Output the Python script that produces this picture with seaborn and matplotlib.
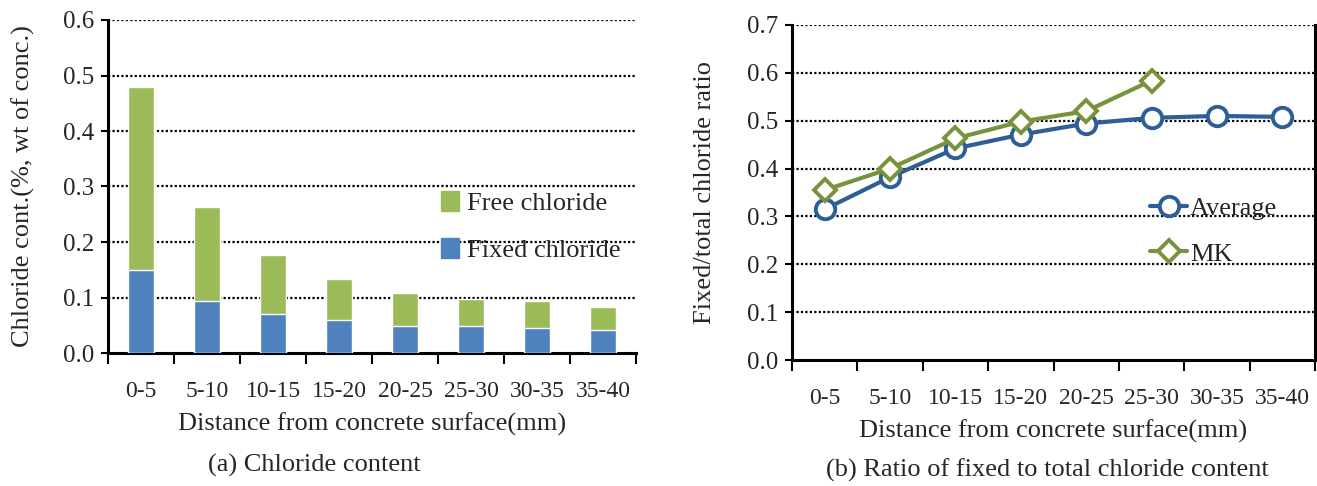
import pandas as pd
import numpy as np
import matplotlib.pyplot as plt
import matplotlib.patches as mpatches
import seaborn as sns

# dati
distanze = ['0-5', '5-10', '10-15', '15-20', '20-25', '25-30', '30-35', '35-40']
cloruro_fisso = [0.150, 0.093, 0.071, 0.060, 0.049, 0.049, 0.045, 0.041]
cloruro_totale = [0.480, 0.263, 0.176, 0.133, 0.108, 0.097, 0.093, 0.082]
rapporto_medio = [0.315, 0.382, 0.442, 0.471, 0.494, 0.506, 0.510, 0.508]
rapporto_mk = [0.355, 0.400, 0.463, 0.498, 0.520, 0.584]

verde = '#9BBB59'
blu = '#4F81BD'
blu_linea = '#2E5E98'
verde_linea = '#77933C'

sns.set_style('white')
plt.rcParams['font.family'] = ['Liberation Serif', 'DejaVu Serif']
plt.rcParams['font.size'] = 18

df_bar = pd.DataFrame({'dist': distanze, 'fisso': cloruro_fisso, 'totale': cloruro_totale})
df_media = pd.DataFrame({'dist': distanze, 'ratio': rapporto_medio})
df_mk = pd.DataFrame({'dist': distanze[:len(rapporto_mk)], 'ratio': rapporto_mk})

W, H = 1317, 486
fig = plt.figure(figsize=(W / 100, H / 100), dpi=100)
ax1 = fig.add_axes([108 / W, (H - 353) / H, (636 - 108) / W, (353 - 20) / H])
ax2 = fig.add_axes([792 / W, (H - 360) / H, (1315 - 792) / W, (360 - 25) / H])


def stile_assi(ax, ymax, destra):
    ax.set_xlim(-0.5, len(distanze) - 0.5)
    ax.set_ylim(0, ymax)
    ax.set_yticks(np.arange(0, ymax + 0.001, 0.1))
    ax.set_yticklabels([f'{v:.1f}' for v in np.arange(0, ymax + 0.001, 0.1)])
    ax.set_xticks(range(len(distanze)))
    ax.set_xticklabels(distanze)
    ax.set_xticks(np.arange(-0.5, len(distanze), 1.0), minor=True)
    ax.tick_params(axis='x', which='major', bottom=True, length=0, pad=20, labelsize=17)
    ax.tick_params(axis='x', which='minor', bottom=True, length=8, width=1.5, direction='out', color='black')
    ax.tick_params(axis='y', left=True, length=5, width=1.5, direction='out', color='black', labelsize=18, pad=5)
    for y in np.arange(0.1, ymax + 0.001, 0.1):
        ax.axhline(y, color='black', linestyle=(0, (1, 1)), linewidth=1.6, zorder=0)
    for s in ['left', 'bottom']:
        ax.spines[s].set_color('black')
        ax.spines[s].set_linewidth(2.2)
    ax.spines['top'].set_visible(False)
    ax.spines['right'].set_visible(destra)
    if destra:
        ax.spines['right'].set_color('black')
        ax.spines['right'].set_linewidth(2.2)
    ax.set_xlabel('Distance from concrete surface(mm)', fontsize=19, labelpad=8)


# (a) barre impilate
sns.barplot(data=df_bar, x='dist', y='totale', color=verde, width=0.4, saturation=1, ax=ax1, zorder=2)
sns.barplot(data=df_bar, x='dist', y='fisso', color=blu, width=0.4, saturation=1, ax=ax1, zorder=3)
stile_assi(ax1, 0.6, False)
ax1.set_ylabel('Chloride cont.(%, wt of conc.)', fontsize=19, labelpad=20)
handles = [mpatches.Patch(color=verde, label='Free chloride'),
           mpatches.Patch(color=blu, label='Fixed chloride')]
ax1.legend(handles=handles, loc='center left', bbox_to_anchor=(0.585, 0.38), frameon=False,
           handlelength=0.7, handleheight=0.8, handletextpad=0.3, labelspacing=0.85, fontsize=19)

# (b) rapporto
sns.lineplot(data=df_media, x='dist', y='ratio', color=blu_linea, linewidth=3, marker='o',
             markersize=14, markerfacecolor='white', markeredgecolor=blu_linea, markeredgewidth=2.8,
             label='Average', ax=ax2, zorder=4)
sns.lineplot(data=df_mk, x='dist', y='ratio', color=verde_linea, linewidth=3, marker='D',
             markersize=11, markerfacecolor='white', markeredgecolor=verde_linea, markeredgewidth=2.8,
             label='MK', ax=ax2, zorder=5)
stile_assi(ax2, 0.7, True)
ax2.set_ylabel('Fixed/total chloride ratio', fontsize=19, labelpad=22)
ax2.legend(loc='center left', bbox_to_anchor=(0.64, 0.385), frameon=False,
           handlelength=1.4, handletextpad=0.1, labelspacing=0.85, fontsize=19)

fig.text(314 / W, 1 - 465 / H, '(a) Chloride content', ha='center', va='center', fontsize=19)
fig.text(1047 / W, 1 - 470 / H, '(b) Ratio of fixed to total chloride content', ha='center', va='center', fontsize=19)

plt.savefig('out.png', dpi=100)
